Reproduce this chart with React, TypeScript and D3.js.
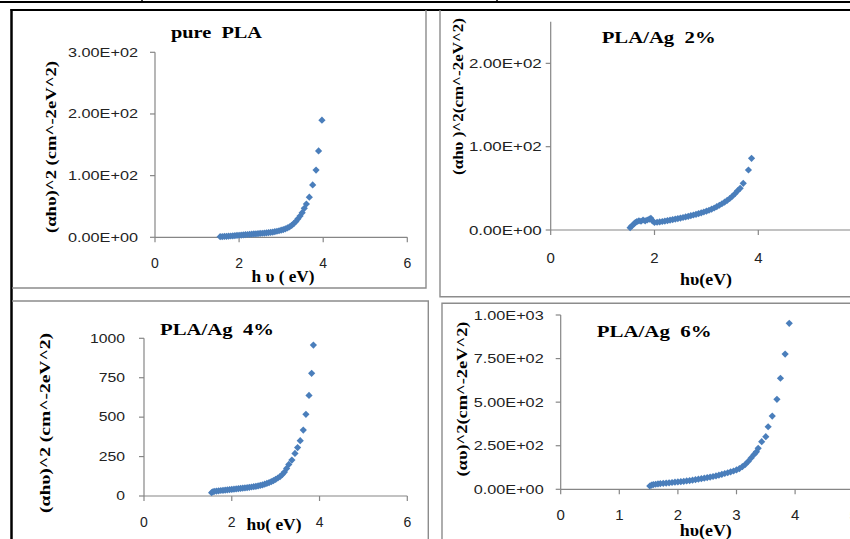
import * as React from "react";
import * as d3 from "d3";

// ---- data ----
const purePlaHv = [
  1.55, 1.6, 1.65, 1.7, 1.75, 1.8, 1.85, 1.9, 1.95, 2.0, 2.05, 2.1, 2.15, 2.2, 2.25, 2.3, 2.35, 2.4, 2.45, 2.5,
  2.55, 2.6, 2.65, 2.7, 2.75, 2.8, 2.85, 2.9, 2.95, 3.0, 3.05, 3.1, 3.15, 3.2, 3.25, 3.3, 3.35, 3.4, 3.45, 3.5,
  3.55, 3.6, 3.67, 3.75, 3.83, 3.89, 3.97,
];
const purePlaY = [
  1.0, 1.2, 1.4, 1.6, 1.8, 2.1, 2.4, 2.7, 3.0, 3.3, 3.6, 3.9, 4.2, 4.5, 4.8, 5.1, 5.4, 5.7, 6.0, 6.3,
  6.6, 6.9, 7.2, 7.6, 8.0, 8.5, 9.1, 9.8, 10.6, 11.5, 12.5, 13.7, 15.2, 17.0, 19.3, 22.2, 25.8, 30.0, 34.5, 40.0,
  47.0, 54, 65, 85, 109, 140, 190,
];

const ag2Hv = [
  1.53, 1.56, 1.6, 1.63, 1.66, 1.7, 1.74, 1.78, 1.82, 1.86, 1.9, 1.93, 1.96, 2.0, 2.05, 2.1, 2.15, 2.2, 2.25, 2.3,
  2.35, 2.4, 2.45, 2.5, 2.55, 2.6, 2.65, 2.7, 2.75, 2.8, 2.85, 2.9, 2.95, 3.0, 3.05, 3.1, 3.15, 3.2, 3.25, 3.3,
  3.35, 3.4, 3.45, 3.5, 3.55, 3.6, 3.65, 3.71, 3.81, 3.87,
];
const ag2Y = [
  2.8, 4.8, 7, 9, 10, 11, 10.5, 12, 11, 12, 13, 14, 11, 9, 9.3, 9.7, 10.2, 10.7, 11.3, 11.9,
  12.5, 13.1, 13.7, 14.3, 15.0, 15.7, 16.4, 17.2, 18.0, 18.8, 19.7, 20.6, 21.6, 22.6, 23.7, 25.0, 26.4, 28.0, 29.7, 31.5,
  33.4, 35.5, 37.8, 40.5, 43.5, 47, 50, 56, 72, 86,
];

const ag4Hv = [
  1.54, 1.57, 1.6, 1.65, 1.7, 1.75, 1.8, 1.85, 1.9, 1.95, 2.0, 2.05, 2.1, 2.15, 2.2, 2.25, 2.3, 2.35, 2.4, 2.45,
  2.5, 2.55, 2.6, 2.65, 2.7, 2.75, 2.8, 2.85, 2.9, 2.95, 3.0, 3.05, 3.1, 3.15, 3.2, 3.25, 3.3, 3.37, 3.44, 3.5,
  3.56, 3.63, 3.69, 3.76, 3.82, 3.86,
];
const ag4Y = [
  21, 27, 29, 31, 33, 35, 36, 37.5, 39, 40.5, 42, 43.5, 45, 46.5, 48, 50, 51.5, 53, 55, 57,
  59, 61.5, 64, 67, 70.5, 75, 80, 85, 91, 98, 106, 114, 123, 136, 152, 175, 200, 228, 270, 307,
  351, 418, 518, 638, 778, 957,
];

const ag6Hv = [
  1.52, 1.55, 1.58, 1.62, 1.66, 1.7, 1.75, 1.8, 1.85, 1.9, 1.95, 2.0, 2.05, 2.1, 2.15, 2.2, 2.25, 2.3, 2.35, 2.4,
  2.45, 2.5, 2.55, 2.6, 2.65, 2.7, 2.75, 2.8, 2.85, 2.9, 2.95, 3.0, 3.05, 3.1, 3.15, 3.2, 3.25, 3.3, 3.34, 3.37,
  3.43, 3.5, 3.54, 3.61, 3.69, 3.75, 3.83, 3.9,
];
const ag6Y = [
  19, 24, 27, 29, 31, 33, 34, 35.5, 37, 39, 41, 42.5, 44, 46, 48, 50, 52.5, 55.5, 58, 61,
  64, 67, 70, 73.5, 77, 81, 86, 90.5, 95, 100, 105, 111, 119, 130, 143, 160, 180, 200, 215, 235,
  273, 302, 359, 420, 516, 637, 776, 952,
];

const p1XTicks = [0, 2, 4, 6];
const p1YTicks = [0, 100, 200, 300];
const p2XTicks = [0, 2, 4];
const p2YTicks = [0, 100, 200];
const p3XTicks = [0, 2, 4, 6];
const p3YTicks = [0, 250, 500, 750, 1000];
const p4XTicks = [0, 1, 2, 3, 4, 5];
const p4YTicks = [0, 250, 500, 750, 1000];

const SERIF = "'Liberation Serif', 'Times New Roman', serif";
const SANS = "'Liberation Sans', Arial, sans-serif";
const BLUE = "#4a7ebb";
const AXIS = "#868686";
const FRAME = "#8c8c8c";

const fmtE = (v: number) => {
  const [m, e] = v.toExponential(2).split("e");
  const n = parseInt(e, 10);
  return `${m}E${n < 0 ? "-" : "+"}${String(Math.abs(n)).padStart(2, "0")}`;
};
const fmtPlain = (v: number) => String(v);

const diamond = d3.symbol(d3.symbolDiamond2, 33)() ?? "";

type Layout = {
  xDom: [number, number];
  xRange: [number, number];
  yDom: [number, number];
  yRange: [number, number];
  yFmt: (v: number) => string;
  yTickFs: number;
  yCharW: number;
  yLabelGap: number;
  xTickFs: number;
  xTickDy: number;
  title: { x: number; y: number; len: number };
  xTitle: { x: number; y: number; len: number };
  yTitle: { x: number; y: number; len: number };
};

const Panel = ({
  hv,
  vals,
  xTicks,
  yTicks,
  title,
  xTitle,
  yTitle,
  L,
}: {
  hv: number[];
  vals: number[];
  xTicks: number[];
  yTicks: number[];
  title: string;
  xTitle: string;
  yTitle: string;
  L: Layout;
}) => {
  const x = d3.scaleLinear().domain(L.xDom).range(L.xRange);
  const y = d3.scaleLinear().domain(L.yDom).range(L.yRange);
  const [x0, x1] = L.xRange;
  const [y0, y1] = L.yRange;

  return (
    <g>
      {/* axes */}
      <line x1={x0} y1={y0} x2={x1} y2={y0} stroke={AXIS} strokeWidth={1.2} />
      <line x1={x0} y1={y0} x2={x0} y2={y1} stroke={AXIS} strokeWidth={1.2} />
      {xTicks.map((t) => (
        <g key={`x${t}`}>
          <line x1={x(t)} y1={y0} x2={x(t)} y2={y0 + 5} stroke={AXIS} strokeWidth={1.2} />
          <text
            x={x(t)}
            y={y0 + L.xTickDy}
            textAnchor="middle"
            fontFamily={SANS}
            fontSize={L.xTickFs}
            fill="#222"
          >
            {t}
          </text>
        </g>
      ))}
      {yTicks.map((t) => {
        const label = L.yFmt(t);
        return (
          <g key={`y${t}`}>
            <line x1={x0 - 5} y1={y(t)} x2={x0} y2={y(t)} stroke={AXIS} strokeWidth={1.2} />
            <text
              x={x0 - L.yLabelGap}
              y={y(t)}
              dy="0.36em"
              textAnchor="end"
              fontFamily={SANS}
              fontSize={L.yTickFs}
              fill="#222"
              textLength={label.length * L.yCharW}
              lengthAdjust="spacingAndGlyphs"
            >
              {label}
            </text>
          </g>
        );
      })}

      {/* points */}
      {hv.map((h, i) => (
        <path key={i} d={diamond} transform={`translate(${x(h)},${y(vals[i])})`} fill={BLUE} />
      ))}

      {/* titles */}
      <text
        x={L.title.x}
        y={L.title.y}
        fontFamily={SERIF}
        fontWeight="bold"
        fontSize={17}
        textLength={L.title.len}
        lengthAdjust="spacingAndGlyphs"
        style={{ whiteSpace: "pre" }}
      >
        {title}
      </text>
      <text
        x={L.xTitle.x}
        y={L.xTitle.y}
        textAnchor="middle"
        fontFamily={SERIF}
        fontWeight="bold"
        fontSize={16}
        textLength={L.xTitle.len}
        lengthAdjust="spacingAndGlyphs"
        style={{ whiteSpace: "pre" }}
      >
        {xTitle}
      </text>
      <text
        transform={`translate(${L.yTitle.x + 5},${L.yTitle.y}) rotate(-90)`}
        textAnchor="middle"
        fontFamily={SERIF}
        fontWeight="bold"
        fontSize={15.5}
        textLength={L.yTitle.len}
        lengthAdjust="spacingAndGlyphs"
        style={{ whiteSpace: "pre" }}
      >
        {yTitle}
      </text>
    </g>
  );
};

const L1: Layout = {
  xDom: [0, 6],
  xRange: [155, 407.3],
  yDom: [0, 300],
  yRange: [237.3, 52.3],
  yFmt: fmtE,
  yTickFs: 12,
  yCharW: 8.75,
  yLabelGap: 17,
  xTickFs: 14,
  xTickDy: 31,
  title: { x: 171, y: 38.3, len: 91 },
  xTitle: { x: 283, y: 282, len: 63 },
  yTitle: { x: 51, y: 147, len: 172 },
};
const L2: Layout = {
  xDom: [0, 6],
  xRange: [550.7, 862.1],
  yDom: [0, 250],
  yRange: [230, 21.7],
  yFmt: fmtE,
  yTickFs: 12.5,
  yCharW: 9.1,
  yLabelGap: 9,
  xTickFs: 15,
  xTickDy: 33,
  title: { x: 601.7, y: 42.5, len: 114 },
  xTitle: { x: 706, y: 285, len: 52 },
  yTitle: { x: 458, y: 96.5, len: 157 },
};
const L3: Layout = {
  xDom: [0, 6],
  xRange: [144, 407.3],
  yDom: [0, 1000],
  yRange: [496, 338.3],
  yFmt: fmtPlain,
  yTickFs: 12,
  yCharW: 8.75,
  yLabelGap: 19,
  xTickFs: 14,
  xTickDy: 31,
  title: { x: 160, y: 334.5, len: 114 },
  xTitle: { x: 274, y: 530, len: 55 },
  yTitle: { x: 45, y: 423, len: 180 },
};
const L4: Layout = {
  xDom: [0, 5],
  xRange: [560.7, 853.7],
  yDom: [0, 1000],
  yRange: [489.3, 315],
  yFmt: fmtE,
  yTickFs: 13,
  yCharW: 8.75,
  yLabelGap: 17,
  xTickFs: 15,
  xTickDy: 31,
  title: { x: 596.7, y: 336.5, len: 115 },
  xTitle: { x: 705.8, y: 536, len: 52 },
  yTitle: { x: 461.7, y: 399, len: 155 },
};

export default function App() {
  return (
    <svg
      width={850}
      height={539}
      viewBox="0 0 850 539"
      style={{ position: "absolute", left: 0, top: 0, background: "#fff" }}
    >
      <rect x={0} y={0} width={850} height={539} fill="#fff" />

      {/* table borders */}
      <line x1={0} y1={2} x2={850} y2={2} stroke="#000" strokeWidth={2} />
      <line x1={142} y1={0} x2={142} y2={3} stroke="#000" strokeWidth={1.5} />
      <line x1={497} y1={0} x2={497} y2={3} stroke="#000" strokeWidth={1.5} />
      <line x1={10.5} y1={10} x2={850} y2={10} stroke="#000" strokeWidth={2} />
      <line x1={11.5} y1={9} x2={11.5} y2={539} stroke="#000" strokeWidth={2.5} />

      {/* chart frames */}
      <g stroke={FRAME} strokeWidth={1.4} fill="none">
        <polyline points="12,288 426,288 426,10" />
        <polyline points="440,10 440,296.7 850,296.7" />
        <polyline points="12,301 428.3,301 428.3,539" />
        <polyline points="850,303.3 442,303.3 442,539" />
      </g>

      <Panel
        hv={purePlaHv}
        vals={purePlaY}
        xTicks={p1XTicks}
        yTicks={p1YTicks}
        title="pure  PLA"
        xTitle="h υ ( eV)"
        yTitle="(αhυ)^2 (cm^-2eV^2)"
        L={L1}
      />
      <Panel
        hv={ag2Hv}
        vals={ag2Y}
        xTicks={p2XTicks}
        yTicks={p2YTicks}
        title="PLA/Ag  2%"
        xTitle="hυ(eV)"
        yTitle="(αhυ )^2(cm^-2eV^2)"
        L={L2}
      />
      <Panel
        hv={ag4Hv}
        vals={ag4Y}
        xTicks={p3XTicks}
        yTicks={p3YTicks}
        title="PLA/Ag  4%"
        xTitle="hυ( eV)"
        yTitle="(αhυ)^2 (cm^-2eV^2)"
        L={L3}
      />
      <Panel
        hv={ag6Hv}
        vals={ag6Y}
        xTicks={p4XTicks}
        yTicks={p4YTicks}
        title="PLA/Ag  6%"
        xTitle="hυ(eV)"
        yTitle="(αυ)^2(cm^-2eV^2)"
        L={L4}
      />
    </svg>
  );
}
